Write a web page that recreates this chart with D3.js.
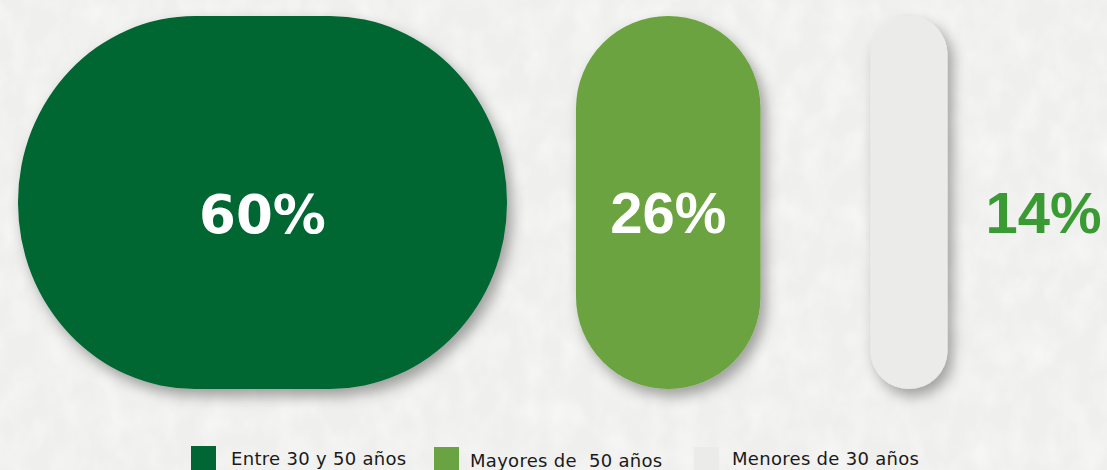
<!DOCTYPE html>
<html>
<head>
<meta charset="utf-8">
<script src="https://cdn.jsdelivr.net/npm/d3@7"></script>
<style>
  html, body { margin: 0; padding: 0; background: #f2f2f0; }
  svg { display: block; }
</style>
</head>
<body>
<div id="chart"></div>
<script>
// data
var categories = ["Entre 30 y 50 años", "Mayores de  50 años", "Menores de 30 años"];
var values = [60, 26, 14];
var labels = ["60%", "26%", "14%"];
var colors = ["#006633", "#6aa341", "#ebebea"];

var W = 1107, H = 470;
var top0 = 16, bottom0 = 389;
var gaps = [69, 110];

var svg = d3.select("#chart").append("svg")
    .attr("width", W)
    .attr("height", H);

var defs = svg.append("defs");

// paper texture
var paper = defs.append("filter").attr("id", "paper")
    .attr("x", 0).attr("y", 0).attr("width", "100%").attr("height", "100%");
paper.append("feTurbulence")
    .attr("type", "fractalNoise")
    .attr("baseFrequency", "0.04 0.03")
    .attr("numOctaves", 3)
    .attr("seed", 7)
    .attr("result", "noise");
paper.append("feColorMatrix")
    .attr("in", "noise")
    .attr("type", "matrix")
    .attr("values", "0 0 0 0 1  0 0 0 0 1  0 0 0 0 1  0 0 0 -1.4 0.9");

var shadow = defs.append("filter").attr("id", "shadow")
    .attr("x", "-20%").attr("y", "-20%").attr("width", "150%").attr("height", "150%");
shadow.append("feDropShadow")
    .attr("dx", 5).attr("dy", 7)
    .attr("stdDeviation", 7)
    .attr("flood-color", "#000")
    .attr("flood-opacity", 0.35);

svg.append("rect")
    .attr("width", W).attr("height", H)
    .attr("fill", "#efefed");
svg.append("rect")
    .attr("width", W).attr("height", H)
    .attr("filter", "url(#paper)")
    .attr("opacity", 0.6);

// width of each shape from its value
var w = d3.scaleLinear()
    .domain([14, 60])
    .range([77, 489]);

var xs = [];
var cx = 18;
values.forEach(function(v, i) {
    xs.push(cx);
    cx += w(v) + (gaps[i] || 0);
});

var y = d3.scaleLinear().domain([0, 1]).range([bottom0, top0]);

var g = svg.append("g");

g.selectAll("rect.shape")
    .data(values)
    .enter()
    .append("rect")
    .attr("class", "shape")
    .attr("x", function(d, i) { return xs[i]; })
    .attr("y", y(1))
    .attr("width", function(d) { return w(d); })
    .attr("height", y(0) - y(1))
    .attr("rx", function(d) { return Math.min(w(d) / 2, 177); })
    .attr("ry", function(d) { return Math.min(w(d) / 2, 186); })
    .attr("fill", function(d, i) { return colors[i]; })
    .attr("filter", "url(#shadow)");

g.selectAll("text.val")
    .data(values)
    .enter()
    .append("text")
    .attr("class", "val")
    .attr("x", function(d, i) {
        if (i == 2) return xs[i] + w(d) + 96;
        return xs[i] + w(d) / 2;
    })
    .attr("y", 233)
    .attr("text-anchor", "middle")
    .attr("font-family", function(d, i) { return i == 0 ? "DejaVu Sans" : "Liberation Sans"; })
    .attr("font-weight", "bold")
    .attr("font-size", function(d, i) { return i == 0 ? "53px" : "58px"; })
    .attr("fill", function(d, i) { return i == 2 ? "#3a9b35" : "#ffffff"; })
    .text(function(d, i) { return labels[i]; });

// legend
var legendX = [191, 434, 694];
var leg = svg.append("g");
var item = leg.selectAll("g")
    .data(categories)
    .enter()
    .append("g")
    .attr("transform", function(d, i) { return "translate(" + legendX[i] + ",0)"; });

item.append("rect")
    .attr("x", 0)
    .attr("y", function(d, i) { return i == 0 ? 446 : 447; })
    .attr("width", 25)
    .attr("height", 30)
    .attr("fill", function(d, i) { return colors[i]; });

item.append("text")
    .attr("x", function(d, i) { return i == 2 ? 38 : i == 1 ? 36 : 40; })
    .attr("y", function(d, i) { return i == 1 ? 467 : 465; })
    .attr("font-family", "DejaVu Sans")
    .attr("font-size", "18px")
    .attr("letter-spacing", "0.3px")
    .attr("fill", "#1a1a1a")
    .style("white-space", "pre")
    .text(function(d) { return d; });
</script>
</body>
</html>
